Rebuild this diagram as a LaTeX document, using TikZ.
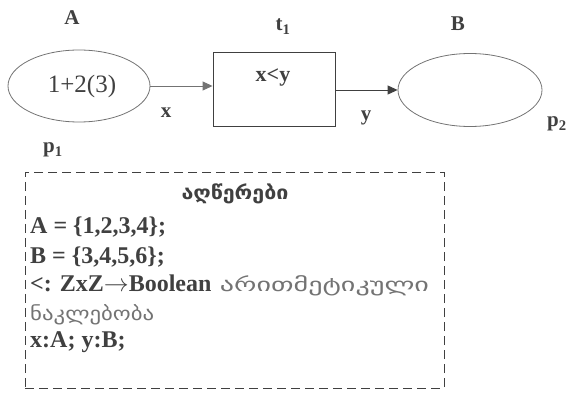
\documentclass[tikz,border=0pt]{standalone}
\usepackage{fontspec}
\usepackage{graphicx}
\setmainfont{Liberation Serif}
\newfontfamily\geo{DejaVu Sans}
\usetikzlibrary{shapes.geometric,arrows.meta}
\definecolor{ink}{gray}{0.25}
\definecolor{lightink}{gray}{0.45}
\tikzset{
  place/.style={draw=lightink, line width=0.8pt, ellipse, inner sep=0pt},
  trans/.style={draw=ink, line width=0.9pt, rectangle, inner sep=0pt},
  lbl/.style={text=ink, font=\bfseries\fontsize{21}{24}\selectfont, inner sep=0pt, anchor=base},
  arc/.style={draw=ink, line width=0.9pt, -{Triangle[length=10pt,width=9pt]}},
  decl/.style={text=ink, font=\bfseries\fontsize{24}{27}\selectfont, anchor=base west, inner sep=0pt},
  geol/.style={text=lightink, font=\geo\fontsize{19}{22}\selectfont, inner sep=0pt, anchor=base west},
}
\begin{document}
\begin{tikzpicture}[x=1pt,y=-1pt]
\useasboundingbox (0,0) rectangle (579,401);
% places and transition
\node[place, minimum width=142pt, minimum height=72pt] (p1) at (79,86) {};
\node[text=ink, font=\fontsize{25}{28}\selectfont, inner sep=0pt, anchor=base] (m1) at (82,93) {1+2(3)};
\node[trans, minimum width=122pt, minimum height=74pt] (t1) at (274,89) {};
\node[text=ink, font=\bfseries\fontsize{22}{25}\selectfont, inner sep=0pt, anchor=base] (g1) at (273,82) {x<y};
\node[place, minimum width=144pt, minimum height=73pt] (p2) at (470,90) {};
% labels
\node[lbl] (lA) at (72,25) {A};
\node[lbl] (lt) at (283,31) {t\textsubscript{1}};
\node[lbl] (lB) at (458,31) {B};
\node[lbl] (lp1) at (53,153) {p\textsubscript{1}};
\node[lbl] (lp2) at (557,127) {p\textsubscript{2}};
\node[lbl] (lx) at (166,118) {x};
\node[lbl] (ly) at (366,121) {y};
% arcs
\draw[arc, draw=lightink] (p1.east) -- (t1.west |- p1.east);
\draw[arc] (t1.east |- p2.west) -- (p2.west);
% declarations box
\node[draw=ink, line width=0.8pt, dash pattern=on 9pt off 5pt, minimum width=419pt, minimum height=216pt, inner sep=0pt] (box) at (234.5,280) {};
\node[text=ink, font=\geo\bfseries\fontsize{19}{22}\selectfont, inner sep=0pt, anchor=base] (title) at (235,200) {\scalebox{1.13}[1]{აღწერები}};
\node[decl] (d1) at (30,234) {A = \{1,2,3,4\};};
\node[decl] (d2) at (30,263) {B = \{3,4,5,6\};};
\node[decl] (d3) at (30,291) {<: ZxZ$\rightarrow$Boolean};
\node[geol] (d3g) at ([xshift=8pt]d3.base east) {\scalebox{1.48}[1]{არითმეტიკული}};
\node[geol] (d4) at (30,320) {\scalebox{1.2}[1]{ნაკლებობა}};
\node[decl] (d5) at (30,347) {x:A; y:B;};
\end{tikzpicture}
\end{document}
